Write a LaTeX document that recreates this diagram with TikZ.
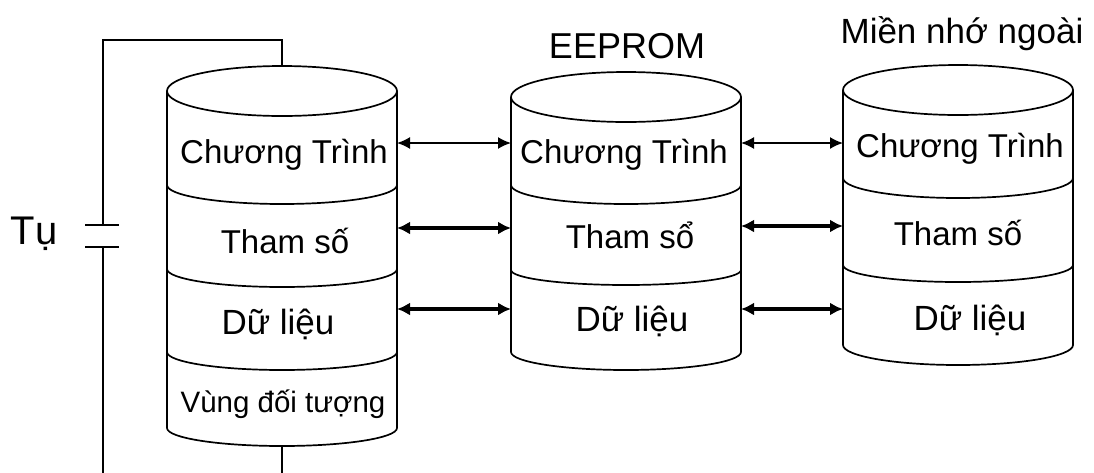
\documentclass[tikz,border=0pt]{standalone}
\usepackage{fontspec}
\setmainfont{Liberation Sans}
\usetikzlibrary{arrows.meta}

\tikzset{
  outline/.style={line width=1.7pt, line join=round},
  wire/.style={line width=1.7pt},
  label/.style={inner sep=0pt, anchor=base, font=\fontsize{33}{38}\selectfont},
  data label/.style={label, font=\fontsize{35}{40}\selectfont},
  small label/.style={label, font=\fontsize{29.5}{34}\selectfont},
  title/.style={inner sep=0pt, anchor=base},
  thin link/.style={line width=1.7pt, {Latex[length=13pt,width=12pt]}-{Latex[length=13pt,width=12pt]}},
  thick link/.style={line width=3.8pt, {Latex[length=13pt,width=13pt]}-{Latex[length=13pt,width=13pt]}},
}

\begin{document}
\begin{tikzpicture}[x=1pt, y=-1pt]
\useasboundingbox (0,0) rectangle (1094,472);

% ---------- memory drum 1 (RAM) ----------
\draw[outline] (282,91) ellipse [x radius=115pt, y radius=25pt];
\draw[outline] (167,91) -- (167,428)
  arc[start angle=180, end angle=360, x radius=115pt, y radius=18pt] -- (397,91);
\draw[outline] (167,185) arc[start angle=180, end angle=360, x radius=115pt, y radius=19pt];
\draw[outline] (167,269) arc[start angle=180, end angle=360, x radius=115pt, y radius=18pt];
\draw[outline] (167,352) arc[start angle=180, end angle=360, x radius=115pt, y radius=18pt];
\node[label] (a1) at (284,163) {Chương Trình};
\node[label] (a2) at (285,253) {Tham số};
\node[data label] (a3) at (278,334) {Dữ liệu};
\node[small label] (a4) at (283,412) {Vùng đối tượng};

% ---------- memory drum 2 (EEPROM) ----------
\draw[outline] (626,97) ellipse [x radius=115pt, y radius=25pt];
\draw[outline] (511,97) -- (511,352)
  arc[start angle=180, end angle=360, x radius=115pt, y radius=18pt] -- (741,97);
\draw[outline] (511,185) arc[start angle=180, end angle=360, x radius=115pt, y radius=19pt];
\draw[outline] (511,270) arc[start angle=180, end angle=360, x radius=115pt, y radius=15pt];
\node[label] (b1) at (624,163) {Chương Trình};
\node[label] (b2) at (630,248) {Tham sổ};
\node[data label] (b3) at (632,331) {Dữ liệu};
\node[title, font=\fontsize{36}{40}\selectfont] (eeprom) at (627,58) {EEPROM};

% ---------- memory drum 3 (external) ----------
\draw[outline] (958,90) ellipse [x radius=115pt, y radius=25pt];
\draw[outline] (843,90) -- (843,345)
  arc[start angle=180, end angle=360, x radius=115pt, y radius=20pt] -- (1073,90);
\draw[outline] (843,178) arc[start angle=180, end angle=360, x radius=115pt, y radius=20pt];
\draw[outline] (843,265) arc[start angle=180, end angle=360, x radius=115pt, y radius=17pt];
\node[label] (c1) at (960,157) {Chương Trình};
\node[label] (c2) at (958,245) {Tham số};
\node[data label] (c3) at (970,330) {Dữ liệu};
\node[title, font=\fontsize{35}{40}\selectfont] (ext) at (962,43) {Miền nhớ ngoài};

% ---------- connection points on the drum walls ----------
\coordinate (a1e) at (397,143);  \coordinate (b1w) at (511,143);
\coordinate (a2e) at (397,228);  \coordinate (b2w) at (511,228);
\coordinate (a3e) at (397,309);  \coordinate (b3w) at (511,309);
\coordinate (b1e) at (741,143);  \coordinate (c1w) at (843,143);
\coordinate (b2e) at (741,226);  \coordinate (c2w) at (843,226);
\coordinate (b3e) at (741,309);  \coordinate (c3w) at (843,309);

\draw[thin link]  (a1e) -- (b1w);
\draw[thick link] (a2e) -- (b2w);
\draw[thick link] (a3e) -- (b3w);
\draw[thin link]  (b1e) -- (c1w);
\draw[thick link] (b2e) -- (c2w);
\draw[thick link] (b3e) -- (c3w);

% ---------- backup capacitor circuit ----------
\coordinate (drumtop) at (282,66);
\coordinate (drumbot) at (282,446);
\coordinate (capP) at (103,225);
\coordinate (capN) at (103,247);
\draw[wire] (drumtop) -- (282,40) -| (capP);
\draw[wire] (85,225) -- (119,225);
\draw[wire] (85,247) -- (119,247);
\draw[wire] (capN) -- (103,476);
\draw[wire] (drumbot) -- (282,476);
\node[title, font=\fontsize{40}{44}\selectfont] (cap) at (34,244) {Tụ};
\end{tikzpicture}
\end{document}
